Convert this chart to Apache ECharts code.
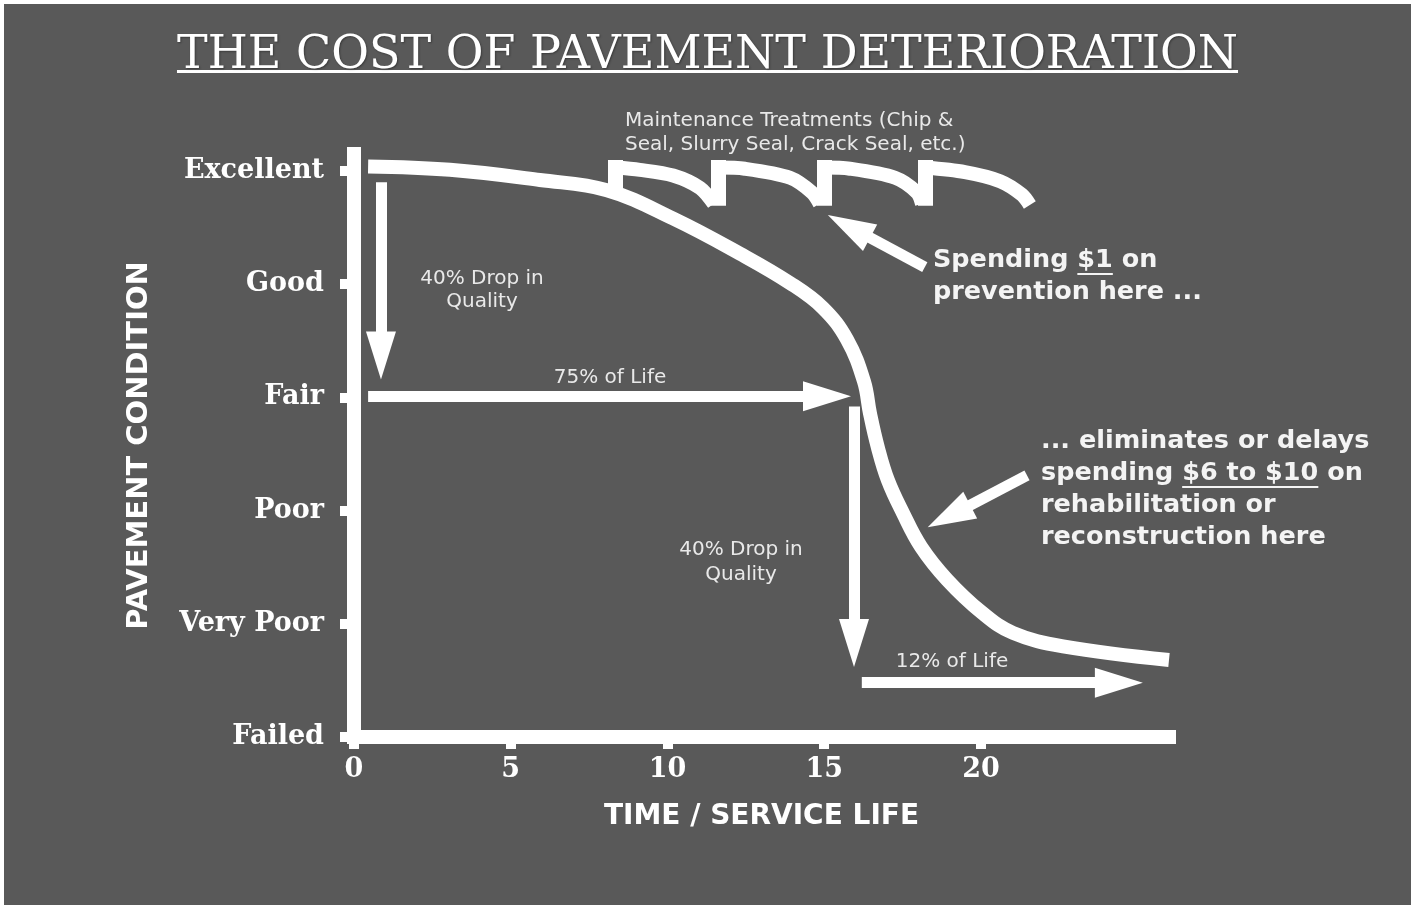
<!DOCTYPE html>
<html>
<head>
<meta charset="utf-8">
<title>The Cost of Pavement Deterioration</title>
<script src="https://cdn.jsdelivr.net/npm/echarts@6/dist/echarts.min.js"></script>
<style>
  html, body { margin: 0; padding: 0; background: #ffffff; }
  #chart { width: 1415px; height: 909px; }
</style>
</head>
<body>
<div id="chart"></div>
<script>
// y levels, bottom to top
const conditionLevels = ['Failed', 'Very Poor', 'Poor', 'Fair', 'Good', 'Excellent'];
const levelValues = [0, 1, 2, 3, 4, 5];
const timeTicks = [0, 5, 10, 15, 20];

// deterioration curve: service life (years) vs condition level
const curveYears = [0.45, 3.06, 5.93, 8.07, 10.18, 12.31, 13.91, 14.96, 15.73, 16.27, 16.46, 16.71, 17.03, 17.51, 18.09, 18.92, 20.03, 21.02, 22.62, 26.0];
const curveCondition = [5.04, 5.01, 4.92, 4.83, 4.58, 4.27, 4.01, 3.79, 3.51, 3.14, 2.86, 2.56, 2.27, 1.98, 1.68, 1.39, 1.10, 0.92, 0.80, 0.68];

// maintenance treatments: year applied, where the jump starts
const treatmentYears = [8.33, 11.61, 14.99, 18.21];
const treatmentBase = [4.83, 4.76, 4.76, 4.76];
const treatmentTop = 5.03;
// condition after each treatment
const treatmentArc1 = [[8.33, 5.03], [9.12, 5.01], [10.18, 4.96], [11.04, 4.85], [11.48, 4.71]];
const treatmentArc2 = [[11.61, 5.03], [12.47, 5.02], [13.91, 4.94], [14.61, 4.81], [14.86, 4.71]];
const treatmentArc3 = [[14.99, 5.03], [15.82, 5.02], [17.26, 4.94], [17.96, 4.81], [18.12, 4.71]];
const treatmentArc4 = [[18.21, 5.03], [19.49, 4.99], [20.61, 4.91], [21.31, 4.79], [21.56, 4.70]];

// arrows [tail, head centre]
const arrowDrop1 = [[0.86, 4.90], [0.86, 3.37]];
const arrowLife75 = [[0.45, 3.01], [15.09, 3.01]];
const arrowDrop2 = [[15.95, 2.92], [15.95, 0.83]];
const arrowLife12 = [[16.2, 0.48], [24.40, 0.48]];
const pointerPrevention = [[18.21, 4.15], [15.79, 4.51]];
const pointerRehab = [[21.47, 2.31], [18.98, 1.95]];

const titleText = 'THE COST OF PAVEMENT DETERIORATION';

const white = '#ffffff';
const soft = '#e9e9e9';
const bigFont = 'bold 25.5px "DejaVu Sans"';
const smallFont = '20px "DejaVu Sans"';

const ctx = document.createElement('canvas').getContext('2d');
function textWidth(font, s) {
  ctx.font = font;
  return ctx.measureText(s).width;
}

const titleFont = '46px "DejaVu Serif"';
const titleW = textWidth(titleFont, titleText);

const chart = echarts.init(document.getElementById('chart'));

function arcSeries(data) {
  return {
    type: 'line',
    data: data,
    smooth: 0.3,
    symbol: 'none',
    clip: false,
    lineStyle: { color: white, width: 14, cap: 'butt' },
    z: 3
  };
}

chart.setOption({
  backgroundColor: '#595959',
  animation: false,
  title: {
    text: titleText,
    left: 'center',
    top: 28,
    textStyle: {
      color: white,
      fontFamily: 'DejaVu Serif',
      fontWeight: 'normal',
      fontSize: 46,
      textShadowColor: 'rgba(0,0,0,0.35)',
      textShadowBlur: 2,
      textShadowOffsetX: 1,
      textShadowOffsetY: 1
    }
  },
  grid: {
    left: 354,
    right: 246,
    top: 154,
    bottom: 172,
    outerBoundsMode: 'none'
  },
  xAxis: {
    type: 'value',
    min: 0,
    max: 26,
    name: 'TIME / SERVICE LIFE',
    nameLocation: 'middle',
    nameGap: 66,
    nameTextStyle: {
      color: white,
      fontFamily: 'DejaVu Sans',
      fontWeight: 'bold',
      fontSize: 28,
      verticalAlign: 'top'
    },
    axisLine: { show: true, lineStyle: { color: white, width: 14, cap: 'square' } },
    axisTick: { show: true, length: 12, customValues: timeTicks, lineStyle: { color: white, width: 10 } },
    axisLabel: {
      customValues: timeTicks,
      margin: 19,
      color: white,
      fontFamily: 'DejaVu Serif',
      fontWeight: 'bold',
      fontSize: 27
    },
    splitLine: { show: false }
  },
  yAxis: {
    type: 'value',
    min: 0,
    max: 5.15,
    name: 'PAVEMENT CONDITION',
    nameLocation: 'middle',
    nameGap: 200,
    nameRotate: 90,
    nameTextStyle: {
      color: white,
      fontFamily: 'DejaVu Sans',
      fontWeight: 'bold',
      fontSize: 29
    },
    axisLine: { show: true, lineStyle: { color: white, width: 14, cap: 'square' } },
    axisTick: { show: true, length: 14, customValues: levelValues, lineStyle: { color: white, width: 10 } },
    axisLabel: {
      customValues: levelValues,
      formatter: function (v) { return conditionLevels[v]; },
      margin: 30,
      padding: [6, 0, 0, 0],
      color: white,
      fontFamily: 'DejaVu Serif',
      fontWeight: 'bold',
      fontSize: 27
    },
    splitLine: { show: false }
  },
  series: [
    {
      name: 'Pavement condition',
      type: 'line',
      data: curveYears.map(function (x, i) { return [x, curveCondition[i]]; }),
      smooth: 0.4,
      symbol: 'none',
      clip: false,
      lineStyle: { color: white, width: 14, cap: 'butt' },
      z: 3
    },
    arcSeries(treatmentArc1),
    arcSeries(treatmentArc2),
    arcSeries(treatmentArc3),
    arcSeries(treatmentArc4),
    {
      name: 'Treatments',
      type: 'lines',
      coordinateSystem: 'cartesian2d',
      symbol: ['none', 'none'],
      lineStyle: { color: white, width: 15, opacity: 1, cap: 'square' },
      data: treatmentYears.map(function (x, i) {
        return { coords: [[x, treatmentBase[i]], [x, treatmentTop]] };
      }),
      z: 3
    },
    {
      name: 'Arrows',
      type: 'lines',
      coordinateSystem: 'cartesian2d',
      symbol: ['none', 'triangle'],
      symbolSize: [10, [30, 48]],
      lineStyle: { color: white, width: 11, opacity: 1 },
      data: [arrowDrop1, arrowLife75, arrowDrop2, arrowLife12, pointerPrevention, pointerRehab]
        .map(function (c) { return { coords: c }; }),
      z: 4
    }
  ],
  graphic: [
    {
      type: 'rect',
      silent: true,
      shape: { x: 2, y: 2, width: 1411, height: 905 },
      style: { fill: 'none', stroke: white, lineWidth: 4 }
    },
    {
      type: 'rect',
      left: 'center',
      top: 70,
      shape: { width: titleW, height: 3 },
      style: { fill: white }
    },
    {
      type: 'text',
      x: 625, y: 109,
      style: {
        text: 'Maintenance Treatments (Chip &\nSeal, Slurry Seal, Crack Seal, etc.)',
        fill: soft, font: smallFont, lineHeight: 24,
        align: 'left', verticalAlign: 'top'
      }
    },
    {
      type: 'text',
      x: 482, y: 267,
      style: {
        text: '40% Drop in\nQuality',
        fill: soft, font: smallFont, lineHeight: 23,
        align: 'center', verticalAlign: 'top'
      }
    },
    {
      type: 'text',
      x: 610, y: 378,
      style: {
        text: '75% of Life',
        fill: soft, font: smallFont,
        align: 'center', verticalAlign: 'middle'
      }
    },
    {
      type: 'text',
      x: 741, y: 537,
      style: {
        text: '40% Drop in\nQuality',
        fill: soft, font: smallFont, lineHeight: 25,
        align: 'center', verticalAlign: 'top'
      }
    },
    {
      type: 'text',
      x: 952, y: 662,
      style: {
        text: '12% of Life',
        fill: soft, font: smallFont,
        align: 'center', verticalAlign: 'middle'
      }
    },
    {
      type: 'text',
      x: 933, y: 244,
      style: {
        text: 'Spending $1 on\nprevention here ...',
        fill: '#f4f4f4', font: bigFont, lineHeight: 32,
        align: 'left', verticalAlign: 'top'
      }
    },
    {
      type: 'rect',
      shape: {
        x: 933 + textWidth(bigFont, 'Spending '),
        y: 273,
        width: textWidth(bigFont, '$1'),
        height: 2
      },
      style: { fill: '#f4f4f4' }
    },
    {
      type: 'text',
      x: 1041, y: 425,
      style: {
        text: '... eliminates or delays\nspending $6 to $10 on\nrehabilitation or\nreconstruction here',
        fill: '#f4f4f4', font: bigFont, lineHeight: 32,
        align: 'left', verticalAlign: 'top'
      }
    },
    {
      type: 'rect',
      shape: {
        x: 1041 + textWidth(bigFont, 'spending '),
        y: 486,
        width: textWidth(bigFont, '$6 to $10'),
        height: 2
      },
      style: { fill: '#f4f4f4' }
    }
  ]
});
</script>
</body>
</html>
